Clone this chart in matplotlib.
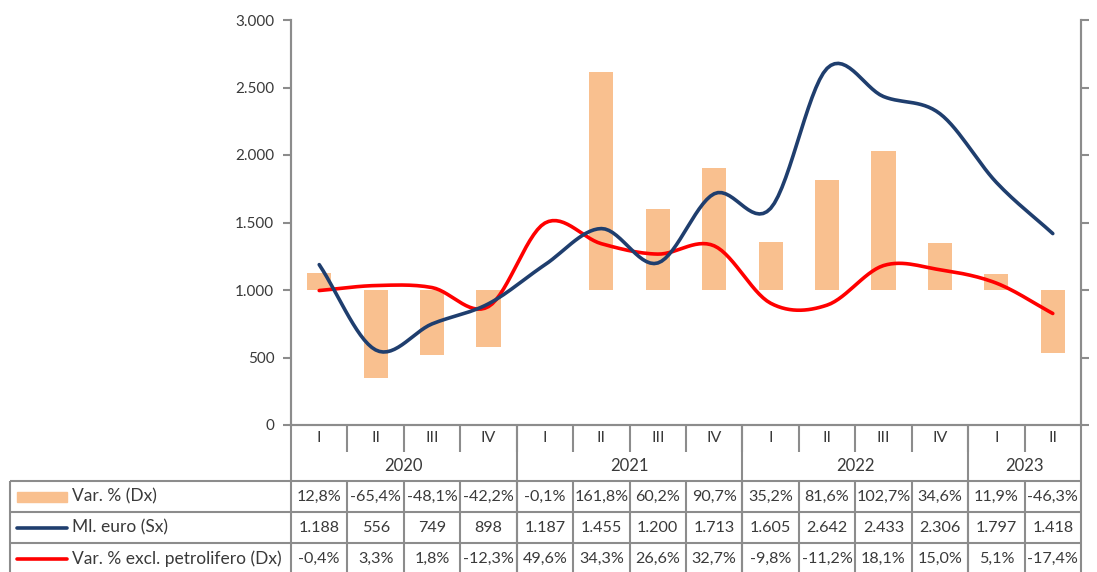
import numpy as np
import matplotlib
matplotlib.use("Agg")
import matplotlib.pyplot as plt
from matplotlib.patches import Rectangle
from matplotlib.lines import Line2D

plt.rcParams['font.family'] = ['Lato', 'DejaVu Sans']

quarters = ["I", "II", "III", "IV", "I", "II", "III", "IV", "I", "II", "III", "IV", "I", "II"]
years = ["2020", "2021", "2022", "2023"]
year_spans = [4, 4, 4, 2]
var_pct = [12.8, -65.4, -48.1, -42.2, -0.1, 161.8, 60.2, 90.7, 35.2, 81.6, 102.7, 34.6, 11.9, -46.3]
ml_euro = [1188, 556, 749, 898, 1187, 1455, 1200, 1713, 1605, 2642, 2433, 2306, 1797, 1418]
var_excl = [-0.4, 3.3, 1.8, -12.3, 49.6, 34.3, 26.6, 32.7, -9.8, -11.2, 18.1, 15.0, 5.1, -17.4]
series_names = ["Var. % (Dx)", "Ml. euro (Sx)", "Var. % excl. petrolifero (Dx)"]
left_ticks = [0, 500, 1000, 1500, 2000, 2500, 3000]

C_BAR = "#F9C08F"
C_BLUE = "#1F3E6E"
C_RED = "#FF0000"
C_GRID = "#8C8C8C"
C_TXT = "#3A3A3A"

W, H = 1097, 572
fig = plt.figure(figsize=(W / 100, H / 100), dpi=100)

x0, x1, ytop, ybot = 291, 1081, 20, 425
ax = fig.add_axes([x0 / W, 1 - ybot / H, (x1 - x0) / W, (ybot - ytop) / H])
ax2 = ax.twinx()

n = len(quarters)
xs = np.arange(n)


def smooth(x, y, k=16):
    x = np.asarray(x, float)
    y = np.asarray(y, float)
    P = np.column_stack([x, y])
    P = np.vstack([P[0] * 2 - P[1], P, P[-1] * 2 - P[-2]])
    out = []
    t = np.linspace(0, 1, k)
    for i in range(1, len(P) - 2):
        p0, p1, p2, p3 = P[i - 1], P[i], P[i + 1], P[i + 2]
        c1 = p1 + (p2 - p0) / 6
        c2 = p2 - (p3 - p1) / 6
        seg = ((1 - t) ** 3)[:, None] * p1 + (3 * (1 - t) ** 2 * t)[:, None] * c1 + \
              (3 * (1 - t) * t ** 2)[:, None] * c2 + (t ** 3)[:, None] * p2
        out.append(seg if i == 1 else seg[1:])
    S = np.vstack(out)
    return S[:, 0], S[:, 1]


ax2.bar(xs, var_pct, width=0.43, color=C_BAR, zorder=1)
ax2.set_ylim(-100, 200)
sx, sy = smooth(xs, var_excl)
ax2.plot(sx, sy, color=C_RED, lw=2.6, solid_capstyle='round', zorder=3)

ax.set_zorder(ax2.get_zorder() + 1)
ax.patch.set_visible(False)
bx, by = smooth(xs, ml_euro)
ax.plot(bx, by, color=C_BLUE, lw=2.6, solid_capstyle='round', zorder=4)
ax.set_ylim(0, 3000)
ax.set_xlim(-0.5, n - 0.5)
ax.set_yticks(left_ticks)
ax.set_yticklabels([f"{v:,}".replace(",", ".") for v in left_ticks], fontsize=11, color=C_TXT)
ax.set_xticks([])
ax2.set_yticks([-100, -50, 0, 50, 100, 150, 200])
ax2.set_yticklabels([])
for a in (ax, ax2):
    for s in a.spines.values():
        s.set_color(C_GRID)
        s.set_linewidth(1.5)
    a.spines['top'].set_visible(False)
ax.tick_params(axis='y', length=6, width=1.5, color=C_GRID, pad=6)
ax2.tick_params(axis='y', length=6, width=1.5, color=C_GRID)

# table overlay in pixel coordinates
ov = fig.add_axes([0, 0, 1, 1])
ov.set_xlim(0, W)
ov.set_ylim(H, 0)
ov.axis('off')
ov.patch.set_visible(False)

cw = (x1 - x0) / n
rows_top = 481
rh = 31.2
row_lines = [rows_top + i * rh for i in range(4)]
tl = 10
lk = dict(color=C_GRID, lw=1.5, solid_capstyle='butt')

# quarter labels
for i, q in enumerate(quarters):
    ov.text(x0 + (i + 0.5) * cw, 438, q, ha='center', va='center', fontsize=11.5, color=C_TXT)
# quarter separators (short)
for i in range(1, n):
    ov.add_line(Line2D([x0 + i * cw] * 2, [ybot, 452], **lk))
# year labels and separators
k = 0
ov.add_line(Line2D([x0] * 2, [ybot, H], **lk))
for y, sp in zip(years, year_spans):
    ov.text(x0 + (k + sp / 2) * cw, 466, y, ha='center', va='center', fontsize=12, color=C_TXT)
    k += sp
    ov.add_line(Line2D([x0 + k * cw] * 2, [ybot, H], **lk))
# data table lines
for yl in row_lines:
    ov.add_line(Line2D([tl, x1], [yl, yl], **lk))
ov.add_line(Line2D([tl, tl], [rows_top, H], **lk))
for i in range(1, n):
    ov.add_line(Line2D([x0 + i * cw] * 2, [rows_top, H], **lk))

# legend keys and names
cy = [rows_top + (j + 0.5) * rh for j in range(3)]
ov.add_patch(Rectangle((17, cy[0] - 5), 50, 10, color=C_BAR))
ov.add_line(Line2D([17, 67], [cy[1], cy[1]], color=C_BLUE, lw=2.6, solid_capstyle='round'))
ov.add_line(Line2D([17, 67], [cy[2], cy[2]], color=C_RED, lw=2.6, solid_capstyle='round'))
for j, nm in enumerate(series_names):
    ov.text(72, cy[j], nm, ha='left', va='center', fontsize=12.5, color=C_TXT)


def pct(v):
    return f"{v:.1f}%".replace(".", ",")


def num(v):
    return f"{v:,}".replace(",", ".")


for i in range(n):
    xc = x0 + (i + 0.5) * cw
    ov.text(xc, cy[0], pct(var_pct[i]), ha='center', va='center', fontsize=11.6, color=C_TXT)
    ov.text(xc, cy[1], num(ml_euro[i]), ha='center', va='center', fontsize=11.6, color=C_TXT)
    ov.text(xc, cy[2], pct(var_excl[i]), ha='center', va='center', fontsize=11.6, color=C_TXT)

fig.savefig("out.png", dpi=100)
